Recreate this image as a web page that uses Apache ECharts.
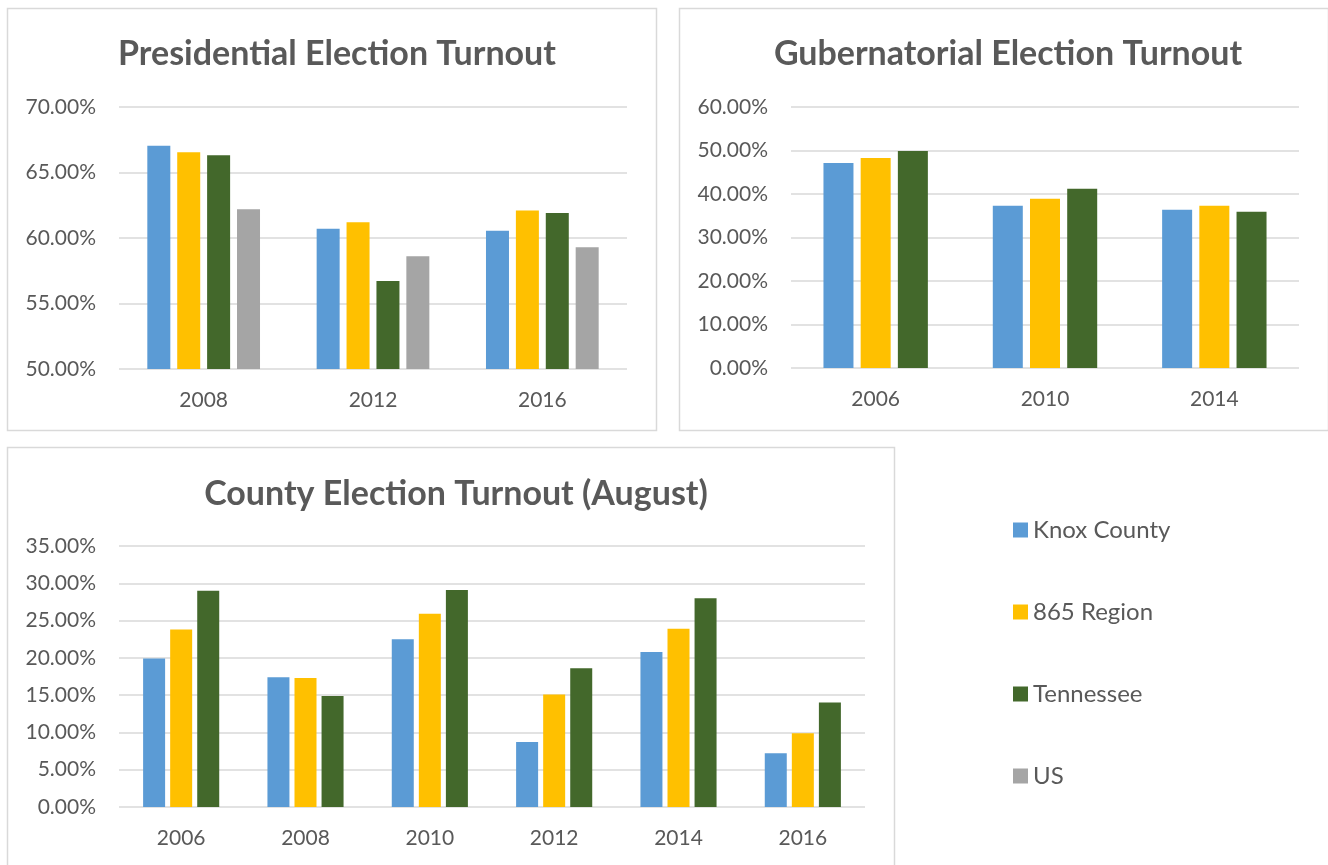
<!DOCTYPE html>
<html>
<head>
<meta charset="utf-8">
<script src="https://cdn.jsdelivr.net/npm/echarts@6/dist/echarts.min.js"></script>
<style>
  html, body { margin: 0; padding: 0; background: #fff; }
  #chart { width: 1328px; height: 865px; }
</style>
</head>
<body>
<div id="chart"></div>
<script>
// data (turnout, percent)
const seriesNames = ["Knox County", "865 Region", "Tennessee", "US"];
const colors = ["#5B9BD5", "#FFC000", "#43682B", "#A5A5A5"];

const presYears = ["2008", "2012", "2016"];
const presKnox = [67.04, 60.70, 60.55];
const presRegion = [66.54, 61.21, 62.10];
const presTN = [66.31, 56.72, 61.90];
const presUS = [62.20, 58.60, 59.30];

const gubYears = ["2006", "2010", "2014"];
const gubKnox = [47.1, 37.3, 36.4];
const gubRegion = [48.3, 38.9, 37.3];
const gubTN = [49.9, 41.2, 35.9];

const countyYears = ["2006", "2008", "2010", "2012", "2014", "2016"];
const countyKnox = [19.9, 17.4, 22.5, 8.7, 20.8, 7.2];
const countyRegion = [23.8, 17.3, 25.9, 15.1, 23.9, 9.9];
const countyTN = [29.0, 14.9, 29.1, 18.6, 28.0, 14.0];

const font = "Lato";
const textColor = "#595959";
const gridColor = "#D9D9D9";

const chart = echarts.init(document.getElementById("chart"));

const yAxisBase = (gridIndex, min, max, interval) => ({
    type: "value",
    gridIndex: gridIndex,
    min: min,
    max: max,
    interval: interval,
    axisLine: { show: false },
    axisTick: { show: false },
    axisLabel: {
        margin: 23,
        fontFamily: font,
        fontSize: 21,
        color: textColor,
        formatter: (v) => v.toFixed(2) + "%",
    },
    splitLine: { lineStyle: { color: gridColor, width: 1.5 } },
});

const xAxisBase = (gridIndex, years) => ({
    type: "category",
    gridIndex: gridIndex,
    data: years,
    axisLine: { show: false },
    axisTick: { show: false },
    axisLabel: {
        margin: 21,
        fontFamily: font,
        fontSize: 21,
        color: textColor,
    },
});

const bar = (name, idx, data, width, gap) => ({
    name: name,
    type: "bar",
    xAxisIndex: idx,
    yAxisIndex: idx,
    data: data,
    barWidth: width,
    barGap: gap,
    itemStyle: { color: colors[seriesNames.indexOf(name)] },
    emphasis: { disabled: true },
});

const titleStyle = {
    fontFamily: font,
    fontWeight: "bold",
    fontSize: 34,
    color: textColor,
};

const option = {
    animation: false,
    backgroundColor: "#fff",
    title: [
        { text: "Presidential Election Turnout", left: 332, top: 32, textAlign: "center", textStyle: titleStyle },
        { text: "Gubernatorial Election Turnout", left: 1003, top: 32, textAlign: "center", textStyle: titleStyle },
        { text: "County Election Turnout (August)", left: 451, top: 472, textAlign: "center", textStyle: titleStyle },
    ],
    legend: {
        orient: "vertical",
        left: 1008,
        top: 512,
        icon: "rect",
        itemWidth: 15,
        itemHeight: 15,
        itemGap: 56,
        data: seriesNames,
        textStyle: { fontFamily: font, fontSize: 24, color: textColor, lineHeight: 26 },
    },
    grid: [
        { left: 119, top: 107, width: 508, height: 262 },
        { left: 791, top: 107, width: 508, height: 261 },
        { left: 119, top: 546, width: 746, height: 261 },
    ],
    xAxis: [
        xAxisBase(0, presYears),
        xAxisBase(1, gubYears),
        xAxisBase(2, countyYears),
    ],
    yAxis: [
        yAxisBase(0, 50, 70, 5),
        yAxisBase(1, 0, 60, 10),
        yAxisBase(2, 0, 35, 5),
    ],
    graphic: [
        { type: "rect", shape: { x: 7.5, y: 8.5, width: 649, height: 422 }, style: { fill: null, stroke: gridColor, lineWidth: 1.5 }, z: -1 },
        { type: "rect", shape: { x: 679.5, y: 8.5, width: 649, height: 422 }, style: { fill: null, stroke: gridColor, lineWidth: 1.5 }, z: -1 },
        { type: "rect", shape: { x: 7.5, y: 447.5, width: 887, height: 440 }, style: { fill: null, stroke: gridColor, lineWidth: 1.5 }, z: -1 },
    ],
    series: [
        bar("Knox County", 0, presKnox, 23, "30%"),
        bar("865 Region", 0, presRegion, 23, "30%"),
        bar("Tennessee", 0, presTN, 23, "30%"),
        bar("US", 0, presUS, 23, "30%"),
        bar("Knox County", 1, gubKnox, 30, "24%"),
        bar("865 Region", 1, gubRegion, 30, "24%"),
        bar("Tennessee", 1, gubTN, 30, "24%"),
        bar("Knox County", 2, countyKnox, 22, "23%"),
        bar("865 Region", 2, countyRegion, 22, "23%"),
        bar("Tennessee", 2, countyTN, 22, "23%"),
    ],
};

chart.setOption(option);
</script>
</body>
</html>
